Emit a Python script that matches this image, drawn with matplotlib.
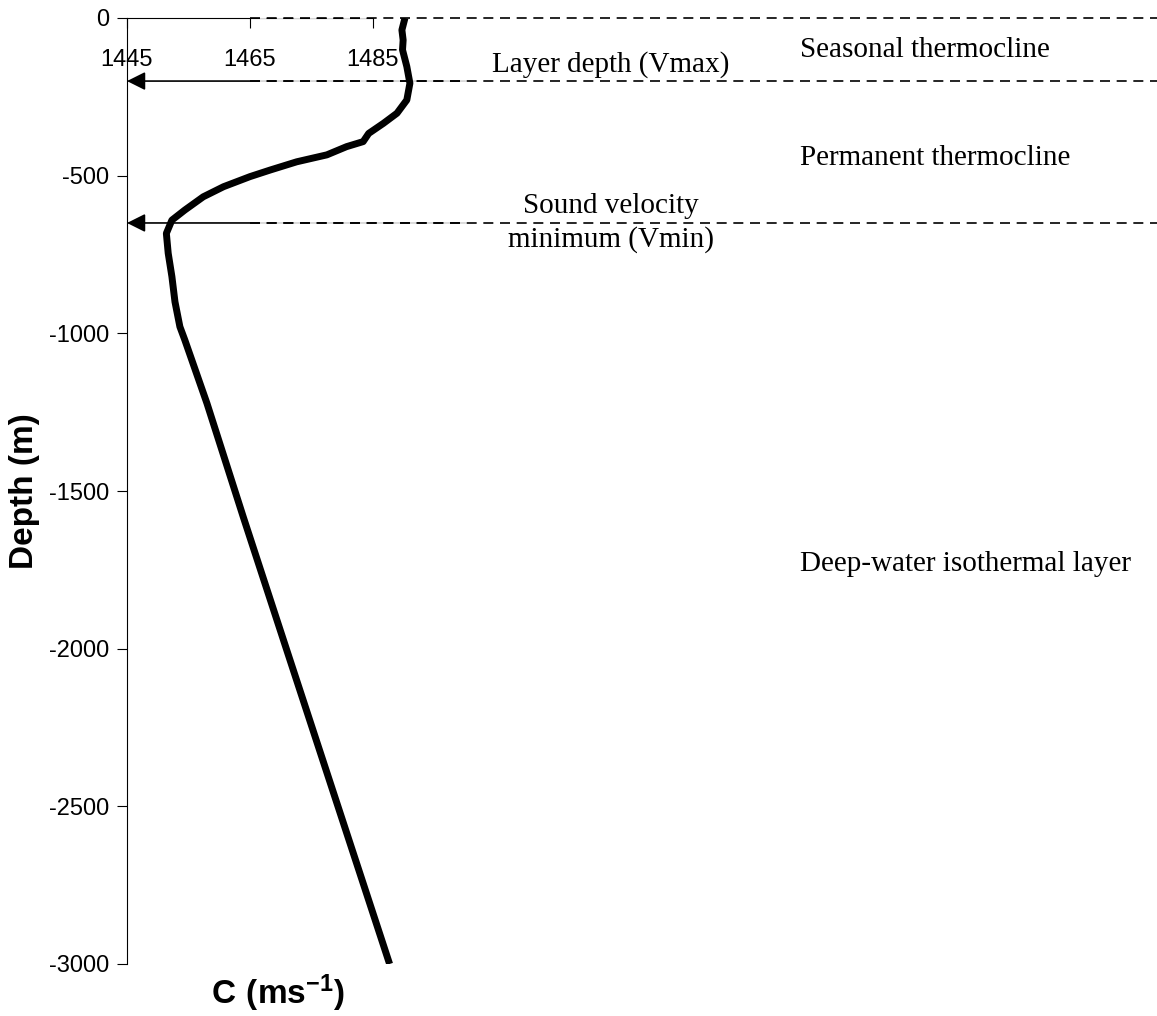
import matplotlib
matplotlib.use("Agg")
import matplotlib.pyplot as plt

plt.rcParams['axes.unicode_minus'] = False
plt.rcParams['mathtext.fontset'] = 'custom'
plt.rcParams['mathtext.bf'] = 'Liberation Sans:bold'
plt.rcParams['mathtext.rm'] = 'Liberation Sans'

# sound speed profile
depth = [0, -38, -70, -101, -154, -207, -260, -302, -334, -366, -392, -408,
         -434, -456, -482, -503, -535, -567, -609, -641, -683, -746, -820,
         -900, -979, -1021, -1222, -1582, -2000, -2500, -3000]
speed = [1490.2, 1489.7, 1489.9, 1489.8, 1490.5, 1491.0, 1490.5, 1488.9,
         1486.7, 1484.3, 1483.4, 1480.7, 1477.5, 1472.6, 1468.3, 1465.0,
         1460.7, 1457.4, 1454.4, 1452.3, 1451.4, 1451.7, 1452.3, 1452.8,
         1453.6, 1454.4, 1458.0, 1463.9, 1470.9, 1479.3, 1487.7]

xticks = [1445, 1465, 1485]
yticks = [0, -500, -1000, -1500, -2000, -2500, -3000]

# reference depths (dashed lines) and arrows
line_depths = [0, -200, -650]
arrow_depths = [-200, -650]

zone_labels = ["Seasonal thermocline", "Permanent thermocline", "Deep-water isothermal layer"]
zone_depths = [-95, -435, -1725]

fig = plt.figure(figsize=(11.57, 10.16), dpi=100)
ax = fig.add_axes([127/1157, 1 - 964/1016, 1 - 127/1157, (964 - 18)/1016])
xmin, xmax = 1445, 1445 + (1157 - 127)/6.15
ax.set_xlim(xmin, xmax)
ax.set_ylim(-3000, 0)

ax.spines['top'].set_visible(False)
ax.spines['right'].set_visible(False)
ax.spines['bottom'].set_position(('data', 0))
ax.spines['bottom'].set_bounds(1445, 1485)
ax.spines['left'].set_bounds(-3000, 0)

ax.set_xticks(xticks)
ax.set_yticks(yticks)
ax.tick_params(axis='x', direction='out', length=7, pad=15, labelsize=17)
ax.tick_params(axis='y', direction='out', length=7, pad=6, labelsize=17)
for lab in ax.get_xticklabels() + ax.get_yticklabels():
    lab.set_fontfamily('Liberation Sans')

# profile
ax.plot(speed, depth, color='black', lw=5, zorder=5, solid_capstyle='butt')

# arrows to axis
for d in arrow_depths:
    ax.annotate('', xy=(1445, d), xytext=(1500, d),
                arrowprops=dict(arrowstyle='-|>', color='black', lw=1.2,
                                mutation_scale=28, shrinkA=0, shrinkB=0),
                zorder=2.6)

# dashed reference lines
for d in line_depths:
    ax.plot([1465, xmax], [d, d], color='black', lw=1.2, ls=(0, (6, 4)),
            gapcolor='white', zorder=3, clip_on=False)

serif = 'Liberation Serif'
ax.text(1523.7, -148, "Layer depth (Vmax)", family=serif, fontsize=21,
        ha='center', va='center')
ax.text(1523.7, -597, "Sound velocity", family=serif, fontsize=21,
        ha='center', va='center')
ax.text(1523.7, -703, "minimum (Vmin)", family=serif, fontsize=21,
        ha='center', va='center')
for lab, d in zip(zone_labels, zone_depths):
    ax.text(1445 + (800 - 127)/6.15, d - 8, lab, family=serif, fontsize=21,
            ha='left', va='center')

ax.set_ylabel("Depth (m)", fontsize=24, fontweight='bold', family='Liberation Sans')
ax.yaxis.set_label_coords(-0.0845, 0.5)
ax.text(0.1466, -0.031, r'$\mathbf{C\ (ms^{-1})}$', transform=ax.transAxes,
        fontsize=24, ha='center', va='center')

fig.savefig("out.png", dpi=100, facecolor='white')
